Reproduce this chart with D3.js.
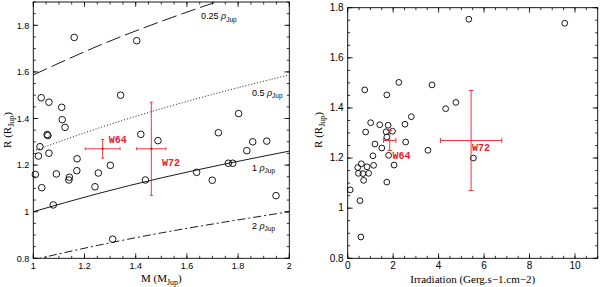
<!DOCTYPE html>
<html><head><meta charset="utf-8">
<script src="https://cdn.jsdelivr.net/npm/d3@7/dist/d3.min.js"></script>
<style>body{margin:0;background:#fff}svg{display:block}</style>
</head><body>
<svg id="chart" width="600" height="287"></svg>
<script>
// ---------------- DATA ----------------
// Left panel: planet mass (M_Jup) vs radius (R_Jup)
const massM = [1.160,1.404,1.031,1.061,1.111,1.113,1.124,1.341,1.054,1.057,1.420,1.487,1.723,1.802,1.857,1.912,
  1.026,1.020,1.061,1.171,1.008,1.033,1.090,1.141,1.139,1.170,1.254,1.241,1.301,1.078,1.310,1.438,1.638,1.699,1.762,1.779,1.834,1.948];
const massR = [1.748,1.734,1.489,1.470,1.448,1.395,1.362,1.500,1.331,1.327,1.332,1.305,1.339,1.421,1.300,1.303,
  1.279,1.239,1.251,1.227,1.160,1.103,1.162,1.148,1.136,1.176,1.166,1.107,1.199,1.029,0.882,1.136,1.169,1.135,1.208,1.208,1.262,1.069];

// Right panel: irradiation (Gerg/s/cm2) vs radius (R_Jup)
const irrI = [5.33,9.55,0.75,2.25,1.72,3.71,4.31,4.76,0.79,1.01,1.41,1.78,2.80,2.52,1.69,1.97,1.72,2.55,1.20,1.50,
  3.53,1.11,1.80,5.53,0.60,0.44,0.85,1.14,2.04,0.47,0.67,0.92,0.70,1.72,0.11,0.54,0.58];
const irrR = [1.754,1.738,1.472,1.502,1.452,1.492,1.397,1.422,1.304,1.341,1.333,1.331,1.365,1.335,1.305,1.307,1.284,1.264,1.256,1.240,
  1.231,1.209,1.211,1.200,1.177,1.162,1.165,1.171,1.172,1.139,1.138,1.139,1.111,1.104,1.073,1.030,0.885];

// Highlighted planets
const planetNames = ["W64","W72"];
const planetM     = [1.271, 1.461];
const planetMErr  = [0.068, 0.057];
const planetR     = [1.270, 1.270];
const planetRErr  = [0.040, 0.200];
const planetIrr    = [1.85, 5.43];
const planetIrrErr = [0.27, 1.35];

// Iso-density curves (R read along the mass grid)
const densityNames = ["0.25","0.5","1","2"];
const densityMassGrid = [1.00, 1.25, 1.50, 1.75, 2.00];
const densityR = [
  [1.587, 1.710, 1.817, 1.913, 2.000],
  [1.260, 1.357, 1.442, 1.518, 1.587],
  [1.000, 1.077, 1.145, 1.205, 1.260],
  [0.794, 0.855, 0.909, 0.956, 1.000]
];

// Tick labels
const leftXTicks  = [1, 1.2, 1.4, 1.6, 1.8, 2];
const leftYTicks  = [0.8, 1, 1.2, 1.4, 1.6, 1.8];
const rightXTicks = [0, 2, 4, 6, 8, 10];
const rightYTicks = [0.8, 1, 1.2, 1.4, 1.6, 1.8];

// ---------------- STYLE / LAYOUT ----------------
const RED = "#e8202c";
const densityDash = ["15,5", "1,2", null, "8,3,2,3"];
const densityLabelAt = [[1.655,1.827],[1.854,1.497],[1.854,1.175],[1.854,0.926]];
const svg = d3.select("#chart");
const fmt = d => String(d);

function panel(cfg) {
  const x = d3.scaleLinear().domain(cfg.xDom).range([cfg.x0, cfg.x1]);
  const y = d3.scaleLinear().domain(cfg.yDom).range([cfg.y1, cfg.y0]);
  const g = svg.append("g");
  const clipId = "clip" + cfg.id;
  svg.append("clipPath").attr("id", clipId).append("rect")
    .attr("x", cfg.x0).attr("y", cfg.y0).attr("width", cfg.x1 - cfg.x0).attr("height", cfg.y1 - cfg.y0);

  const tickG = g.append("g").attr("stroke", "#000").attr("stroke-width", 0.8);
  function ticks(vals, len, horizontal) {
    vals.forEach(v => {
      if (horizontal) {
        const px = x(v);
        tickG.append("line").attr("x1", px).attr("x2", px).attr("y1", cfg.y1).attr("y2", cfg.y1 - len);
        tickG.append("line").attr("x1", px).attr("x2", px).attr("y1", cfg.y0).attr("y2", cfg.y0 + len);
      } else {
        const py = y(v);
        tickG.append("line").attr("y1", py).attr("y2", py).attr("x1", cfg.x0).attr("x2", cfg.x0 + len);
        tickG.append("line").attr("y1", py).attr("y2", py).attr("x1", cfg.x1).attr("x2", cfg.x1 - len);
      }
    });
  }
  ticks(d3.range(cfg.xDom[0], cfg.xDom[1] + 1e-9, cfg.xMinor), 2.5, true);
  ticks(cfg.xTicks, 5, true);
  ticks(d3.range(cfg.yDom[0], cfg.yDom[1] + 1e-9, cfg.yMinor), 2.5, false);
  ticks(cfg.yTicks, 5, false);

  g.append("rect").attr("x", cfg.x0).attr("y", cfg.y0)
    .attr("width", cfg.x1 - cfg.x0).attr("height", cfg.y1 - cfg.y0)
    .attr("fill", "none").attr("stroke", "#000").attr("stroke-width", 0.9);

  g.selectAll(".xt").data(cfg.xTicks).enter().append("text")
    .attr("x", d => x(d)).attr("y", cfg.y1 + 11).attr("text-anchor", "middle")
    .attr("font-family", "Liberation Sans, Arial, sans-serif").attr("font-size", cfg.tickFont)
    .text(fmt);
  g.selectAll(".yt").data(cfg.yTicks).enter().append("text")
    .attr("x", cfg.x0 - 4).attr("y", d => y(d) + 3.3).attr("text-anchor", "end")
    .attr("font-family", "Liberation Sans, Arial, sans-serif").attr("font-size", cfg.tickFont)
    .text(fmt);
  return { x, y, g, clipId };
}

function addLabelSub(g, attrs, parts, fontSize, family) {
  const t = g.append("text").attr("font-family", family).attr("font-size", fontSize);
  Object.entries(attrs).forEach(([k, v]) => t.attr(k, v));
  parts.forEach(p => {
    const s = t.append("tspan").text(p.t);
    if (p.sub) s.attr("font-size", fontSize * 0.72).attr("dy", 2.5);
    if (p.back) s.attr("dy", -2.5);
    if (p.italic) s.attr("font-style", "italic");
  });
  return t;
}

// ---------- LEFT PANEL ----------
const L = panel({ id: "L", xDom: [1, 2], yDom: [0.8, 1.9], x0: 33.3, x1: 289.3, y0: 2, y1: 258.3,
  xTicks: leftXTicks, yTicks: leftYTicks, xMinor: 0.05, yMinor: 0.05, tickFont: 9 });

const lineGen = d3.line().x(d => L.x(d[0])).y(d => L.y(d[1])).curve(d3.curveNatural);
densityR.forEach((arr, i) => {
  const pts = densityMassGrid.map((m, j) => [m, arr[j]]);
  const p = L.g.append("path").attr("d", lineGen(pts)).attr("fill", "none")
    .attr("stroke", "#000").attr("stroke-width", 0.9).attr("clip-path", `url(#${L.clipId})`);
  if (densityDash[i]) p.attr("stroke-dasharray", densityDash[i]);
  addLabelSub(L.g, { x: L.x(densityLabelAt[i][0]), y: L.y(densityLabelAt[i][1]) },
    [{ t: densityNames[i] + " " }, { t: "ρ", italic: true }, { t: "Jup", sub: true }], 9,
    "Liberation Sans, Arial, sans-serif");
});

L.g.selectAll(".pt").data(massM).enter().append("circle")
  .attr("cx", d => L.x(d)).attr("cy", (d, i) => L.y(massR[i])).attr("r", 3.3)
  .attr("fill", "none").attr("stroke", "#000").attr("stroke-width", 0.9);

function errorBars(P, xs, xe, ys, ye, cap, dot) {
  planetNames.forEach((n, i) => {
    const cx = P.x(xs[i]), cy = P.y(ys[i]);
    const xa = P.x(xs[i] - xe[i]), xb = P.x(xs[i] + xe[i]);
    const ya = P.y(ys[i] - ye[i]), yb = P.y(ys[i] + ye[i]);
    const eg = P.g.append("g").attr("stroke", RED).attr("stroke-width", 0.9);
    eg.append("line").attr("x1", xa).attr("x2", xb).attr("y1", cy).attr("y2", cy);
    eg.append("line").attr("x1", cx).attr("x2", cx).attr("y1", ya).attr("y2", yb);
    eg.append("line").attr("x1", xa).attr("x2", xa).attr("y1", cy - cap).attr("y2", cy + cap);
    eg.append("line").attr("x1", xb).attr("x2", xb).attr("y1", cy - cap).attr("y2", cy + cap);
    eg.append("line").attr("x1", cx - cap).attr("x2", cx + cap).attr("y1", ya).attr("y2", ya);
    eg.append("line").attr("x1", cx - cap).attr("x2", cx + cap).attr("y1", yb).attr("y2", yb);
    if (dot) P.g.append("circle").attr("cx", cx).attr("cy", cy).attr("r", 1.3).attr("fill", RED);
  });
}
errorBars(L, planetM, planetMErr, planetR, planetRErr, 1.5, true);
const leftLabelOff = [[6, -6], [10.6, 17]];
planetNames.forEach((n, i) => {
  L.g.append("text").attr("x", L.x(planetM[i]) + leftLabelOff[i][0]).attr("y", L.y(planetR[i]) + leftLabelOff[i][1])
    .attr("font-family", "Liberation Mono, DejaVu Sans Mono, monospace").attr("font-weight", "bold")
    .attr("font-size", 10).attr("fill", RED).text(n);
});

addLabelSub(L.g, { x: 161.3, y: 282, "text-anchor": "middle" },
  [{ t: "M (M" }, { t: "Jup", sub: true }, { t: ")", back: true }], 11, "Liberation Serif, Times New Roman, serif");
addLabelSub(L.g, { transform: "translate(11,130) rotate(-90)", "text-anchor": "middle" },
  [{ t: "R (R" }, { t: "Jup", sub: true }, { t: ")", back: true }], 11, "Liberation Serif, Times New Roman, serif");

// ---------- RIGHT PANEL ----------
const Rp = panel({ id: "R", xDom: [0, 11], yDom: [0.8, 1.8], x0: 347.7, x1: 597.7, y0: 7.7, y1: 258.3,
  xTicks: rightXTicks, yTicks: rightYTicks, xMinor: 0.5, yMinor: 0.05, tickFont: 10 });

Rp.g.selectAll(".pt").data(irrI).enter().append("circle")
  .attr("cx", d => Rp.x(d)).attr("cy", (d, i) => Rp.y(irrR[i])).attr("r", 2.9)
  .attr("fill", "none").attr("stroke", "#000").attr("stroke-width", 0.9);

errorBars(Rp, planetIrr, planetIrrErr, planetR, planetRErr, 2.5, false);
const rightLabelOff = [[2.7, 18], [1, 10.7]];
planetNames.forEach((n, i) => {
  Rp.g.append("text").attr("x", Rp.x(planetIrr[i]) + rightLabelOff[i][0]).attr("y", Rp.y(planetR[i]) + rightLabelOff[i][1])
    .attr("font-family", "Liberation Mono, DejaVu Sans Mono, monospace").attr("font-weight", "bold")
    .attr("font-size", 10).attr("fill", RED).text(n);
});

Rp.g.append("text").attr("x", 472.7).attr("y", 283).attr("text-anchor", "middle")
  .attr("font-family", "Liberation Serif, Times New Roman, serif").attr("font-size", 11)
  .text("Irradiation (Gerg.s\u22121.cm\u22122)");
addLabelSub(Rp.g, { transform: "translate(322,130) rotate(-90)", "text-anchor": "middle" },
  [{ t: "R (R" }, { t: "Jup", sub: true }, { t: ")", back: true }], 11, "Liberation Serif, Times New Roman, serif");
</script>
</body></html>
